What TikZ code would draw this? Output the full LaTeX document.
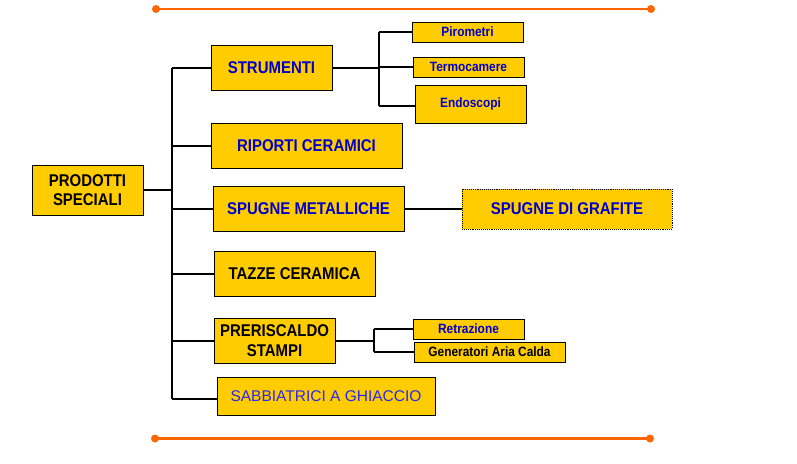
\documentclass[tikz,border=0pt]{standalone}
\usepackage{fontspec}
\setmainfont{Liberation Sans}
\newfontfamily\condf[FakeStretch=0.88]{Liberation Sans}
\definecolor{yfill}{HTML}{FFCC00}
\definecolor{tblue}{HTML}{0000CC}
\definecolor{sblue}{HTML}{2828F0}
\definecolor{orng}{HTML}{FF6600}
\tikzset{
  box/.style={draw=black, line width=0.9pt, fill=yfill, inner sep=0pt, align=center},
  bigtxt/.style={font=\condf\fontsize{17}{19.5}\selectfont\bfseries},
  smalltxt/.style={font=\condf\fontsize{13.5}{15}\selectfont\bfseries},
  conn/.style={line width=2pt, draw=black},
  orangeline/.style={line width=2.6pt, draw=orng},
  dotend/.style={fill=orng, draw=none}
}
\begin{document}
\begin{tikzpicture}[x=1pt,y=-1pt]
\useasboundingbox (0,0) rectangle (797,463);
% orange rules
\coordinate (tl) at (156,9);
\coordinate (tr) at (651,9);
\coordinate (bl) at (155,438.5);
\coordinate (br) at (650,438.5);
\draw[orangeline] (tl) -- (tr);
\draw[orangeline] (bl) -- (br);
\fill[dotend] (tl) circle (4);
\fill[dotend] (tr) circle (4);
\fill[dotend] (bl) circle (4);
\fill[dotend] (br) circle (4);
\coordinate (ttop) at (172,68);
\coordinate (tbot) at (172,399);
% main nodes
\node[box, bigtxt, text=black, minimum width=111, minimum height=50] (ps) at (87.5,190) {PRODOTTI\\SPECIALI};
\node[box, bigtxt, text=tblue, minimum width=121, minimum height=45] (str) at (271.5,67.5) {STRUMENTI};
\node[box, bigtxt, text=tblue, minimum width=191, minimum height=45] (rip) at (306.5,145.5) {RIPORTI CERAMICI};
\node[box, bigtxt, text=tblue, minimum width=191, minimum height=45] (sm) at (308.5,209) {SPUGNE METALLICHE};
\node[box, bigtxt, text=black, minimum width=161, minimum height=45] (taz) at (294.5,273.5) {TAZZE CERAMICA};
\node[box, bigtxt, text=black, minimum width=121, minimum height=45] (pre) at (274.5,340.5) {PRERISCALDO\\STAMPI};
\node[box, text=sblue, font=\fontsize{15.5}{18}\selectfont, minimum width=218, minimum height=38] (sab) at (326,396) {SABBIATRICI A GHIACCIO};
% sub nodes
\node[box, smalltxt, text=tblue, minimum width=111, minimum height=20] (pir) at (467.5,32) {Pirometri};
\node[box, smalltxt, text=tblue, minimum width=111, minimum height=20] (ter) at (468.5,67) {Termocamere};
\node[box, smalltxt, text=tblue, minimum width=111, minimum height=38] (endo) at (470.5,104) {\raisebox{-3pt}{Endoscopi}};
\node[box, bigtxt, text=tblue, draw=black, densely dotted, line width=0.8pt, minimum width=210, minimum height=40] (sg) at (567,209) {SPUGNE DI GRAFITE};
\node[box, smalltxt, text=tblue, minimum width=111, minimum height=20] (ret) at (468.5,329) {Retrazione};
\node[box, smalltxt, text=black, minimum width=151, minimum height=20] (gen) at (489.5,352) {Generatori Aria Calda};
% trunk
\draw[conn] (ttop) -- (tbot);
\draw[conn] (ps.east) -- (ps.east -| ttop);
\draw[conn] (ttop) -- (ttop -| str.west);
\draw[conn] (ttop |- rip.west) -- (rip.west);
\draw[conn] (ttop |- sm.west) -- (sm.west);
\draw[conn] (ttop |- taz.west) -- (taz.west);
\draw[conn] (ttop |- pre.west) -- (pre.west);
\draw[conn] (tbot) -- (tbot -| sab.west);
% strumenti bracket
\coordinate (sbt) at (379,32);
\coordinate (sbb) at (379,106);
\draw[conn] (str.east) -- (str.east -| sbt);
\draw[conn] (sbt) -- (sbb);
\draw[conn] (sbt) -- (pir.west);
\draw[conn] (sbt |- ter.west) -- (ter.west);
\draw[conn] (sbb) -- (sbb -| endo.west);
% spugne
\draw[conn] (sm.east) -- (sg.west);
% preriscaldo bracket
\coordinate (pbt) at (374,329);
\coordinate (pbb) at (374,351.5);
\draw[conn] (pre.east) -- (pre.east -| pbt);
\draw[conn] (pbt) -- (pbb);
\draw[conn] (pbt) -- (ret.west);
\draw[conn] (pbb) -- (pbb -| gen.west);
\end{tikzpicture}
\end{document}
